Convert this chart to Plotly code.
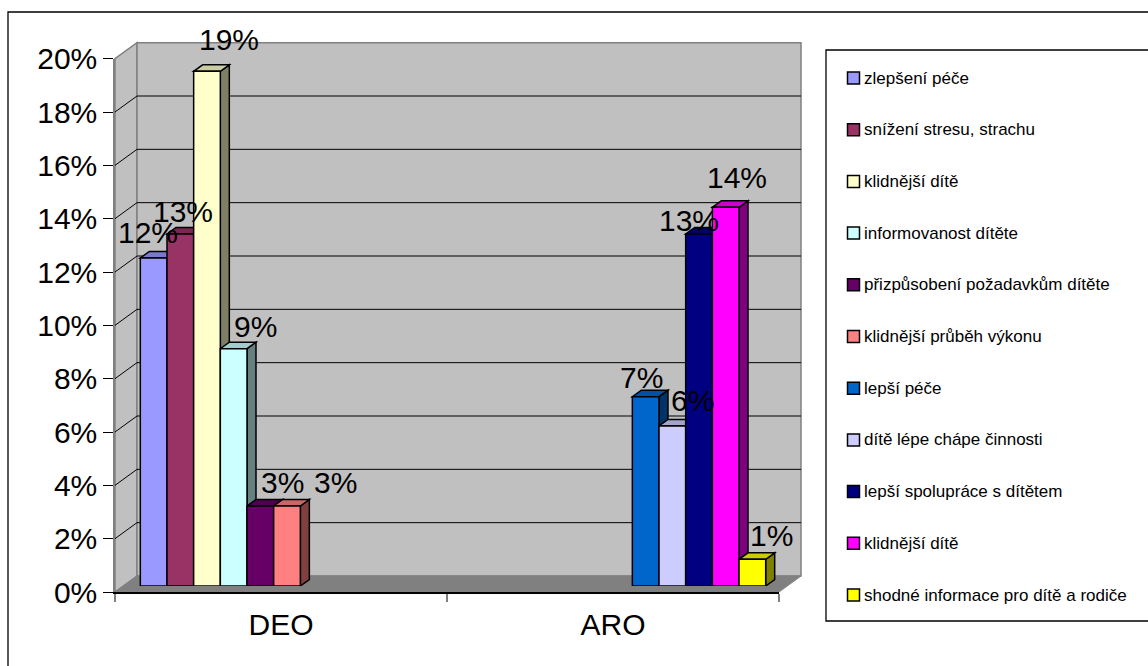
import plotly.graph_objects as go

# ---- data -------------------------------------------------------------
categories = ["DEO", "ARO"]

deo_names = [
    "zlepšení péče",
    "snížení stresu, strachu",
    "klidnější dítě",
    "informovanost dítěte",
    "přizpůsobení požadavkům dítěte",
    "klidnější průběh výkonu",
]
deo_values = [0.123, 0.132, 0.193, 0.089, 0.030, 0.030]

aro_names = [
    "lepší péče",
    "dítě lépe chápe činnosti",
    "lepší spolupráce s dítětem",
    "klidnější dítě",
    "shodné informace pro dítě a rodiče",
]
aro_values = [0.071, 0.060, 0.132, 0.142, 0.010]

y_ticks = [0.00, 0.02, 0.04, 0.06, 0.08, 0.10, 0.12, 0.14, 0.16, 0.18, 0.20]

# ---- styling ------------------------------------------------------------
colors = ["#9999FF", "#993366", "#FFFFCC", "#CCFFFF", "#660066", "#FF8080",
          "#0066CC", "#CCCCFF", "#000080", "#FF00FF", "#FFFF00"]

# label nudges (pixels) relative to the centre / top of each bar
label_dx = [-6, 3, 22, 22, 22, 48, -4, 20, -10, 11, 19]
label_up = [15, 12, 21, 12, 13, 13, 9, 15, 3, 19, 13]

FONT = "Liberation Sans, Arial, sans-serif"
W, H = 1148, 666

# chart geometry in pixels
FX0, FX1 = 115, 779          # front plane, category axis extent
FY0 = 592                    # front plane baseline
YMAX = 0.20
PPU = 533.33 / YMAX          # pixels per unit of value
WALL_DX, WALL_DY = 22, -16   # depth of the walls
BAR_SHIFT = 6                # bars stand slightly behind the front plane
BAR_DX, BAR_DY = 9, -6.5     # depth of each bar
CAT_W = (FX1 - FX0) / 2
SLOT = 26.67


def px(x):
    return x / W


def py(y):
    return 1 - y / H


def shade(hex_color, f):
    h = hex_color.lstrip("#")
    r, g, b = (int(h[i:i + 2], 16) for i in (0, 2, 4))
    return "#%02x%02x%02x" % (int(r * f), int(g * f), int(b * f))


def poly(points):
    return "M " + " L ".join(f"{px(x):.5f},{py(y):.5f}" for x, y in points) + " Z"


series_names = deo_names + aro_names
n_series = len(series_names)
series_vals = ([[v, None] for v in deo_values] +
               [[None, v] for v in aro_values])

bargap = 1 - n_series * SLOT / CAT_W
slot_u = (1 - bargap) / n_series      # one bar slot in x-axis units
dx_u = BAR_DX / CAT_W
dy_u = -BAR_DY / PPU

fig = go.Figure()

for i, (name, vals) in enumerate(zip(series_names, series_vals)):
    fig.add_trace(go.Bar(
        x=[0, 1], y=vals, name=name,
        marker=dict(color=colors[i], line=dict(color="black", width=1.5)),
        xaxis="x", yaxis="y", showlegend=False, hoverinfo="skip",
    ))

# invisible trace so the front-plane axes are drawn
fig.add_trace(go.Scatter(
    x=categories, y=[0, 0], xaxis="x2", yaxis="y2", mode="markers",
    marker=dict(opacity=0), showlegend=False, hoverinfo="skip",
))

shapes = []
grey = "#808080"

# walls and floor
back_top = FY0 + WALL_DY - YMAX * PPU
shapes.append(dict(type="path", xref="paper", yref="paper", layer="below",
                   path=poly([(FX0, FY0), (FX0 + WALL_DX, FY0 + WALL_DY),
                              (FX0 + WALL_DX, back_top), (FX0, FY0 - YMAX * PPU)]),
                   fillcolor="#C0C0C0", line=dict(color=grey, width=1.5)))
shapes.append(dict(type="path", xref="paper", yref="paper", layer="below",
                   path=poly([(FX0 + WALL_DX, FY0 + WALL_DY), (FX1 + WALL_DX, FY0 + WALL_DY),
                              (FX1 + WALL_DX, back_top), (FX0 + WALL_DX, back_top)]),
                   fillcolor="#C0C0C0", line=dict(color=grey, width=1.5)))
for v in y_ticks[1:-1]:
    yf = FY0 - v * PPU
    yb = yf + WALL_DY
    shapes.append(dict(type="line", xref="paper", yref="paper", layer="below",
                       x0=px(FX0 + WALL_DX), x1=px(FX1 + WALL_DX), y0=py(yb), y1=py(yb),
                       line=dict(color="black", width=1)))
    shapes.append(dict(type="line", xref="paper", yref="paper", layer="below",
                       x0=px(FX0), x1=px(FX0 + WALL_DX), y0=py(yf), y1=py(yb),
                       line=dict(color="black", width=1)))
shapes.append(dict(type="path", xref="paper", yref="paper", layer="below",
                   path=poly([(FX0, FY0), (FX1, FY0), (FX1 + WALL_DX, FY0 + WALL_DY),
                              (FX0 + WALL_DX, FY0 + WALL_DY)]),
                   fillcolor=grey, line=dict(color=grey, width=1)))

# side and top faces of the bars, in data units
annotations = []
for i, vals in enumerate(series_vals):
    for c, v in enumerate(vals):
        if v is None:
            continue
        xl = c + (i - (n_series - 1) / 2) * slot_u - slot_u / 2
        xr = xl + slot_u
        side = (f"M {xr},0 L {xr + dx_u},{dy_u} L {xr + dx_u},{v + dy_u} "
                f"L {xr},{v} Z")
        top = (f"M {xl},{v} L {xr},{v} L {xr + dx_u},{v + dy_u} "
               f"L {xl + dx_u},{v + dy_u} Z")
        shapes.append(dict(type="path", xref="x", yref="y", layer="below", path=side,
                           fillcolor=shade(colors[i], 0.5),
                           line=dict(color="black", width=1.5)))
        shapes.append(dict(type="path", xref="x", yref="y", layer="below", path=top,
                           fillcolor=shade(colors[i], 0.8),
                           line=dict(color="black", width=1.5)))
        annotations.append(dict(
            xref="x", yref="y", x=(xl + xr) / 2, y=v,
            text=f"{v:.0%}", showarrow=False, xanchor="center", yanchor="bottom",
            xshift=label_dx[i], yshift=label_up[i] - 8,
            font=dict(family=FONT, size=30, color="black"),
        ))

# outer frame and legend box
shapes.append(dict(type="rect", xref="paper", yref="paper", layer="above",
                   x0=px(8), x1=px(W + 4), y0=py(H + 4), y1=py(12),
                   line=dict(color="black", width=1.3), fillcolor="rgba(0,0,0,0)"))
shapes.append(dict(type="rect", xref="paper", yref="paper", layer="above",
                   x0=px(826), x1=px(W + 4), y0=py(621), y1=py(50),
                   line=dict(color="black", width=1.3), fillcolor="rgba(0,0,0,0)"))

# legend entries
for k, name in enumerate(series_names):
    yc = 78 + 51.7 * k
    shapes.append(dict(type="rect", xref="paper", yref="paper", layer="above",
                       x0=px(847.5), x1=px(859.5), y0=py(yc + 6), y1=py(yc - 6),
                       fillcolor=colors[k], line=dict(color="black", width=1.5)))
    annotations.append(dict(
        xref="paper", yref="paper", x=px(862), y=py(yc), text=name,
        showarrow=False, xanchor="left", yanchor="middle",
        font=dict(family=FONT, size=17, color="black"),
    ))

fig.update_layout(
    width=W, height=H, autosize=False,
    margin=dict(l=0, r=0, t=0, b=0, pad=0, autoexpand=False),
    paper_bgcolor="white", plot_bgcolor="rgba(0,0,0,0)",
    barmode="group", bargap=bargap, bargroupgap=0,
    font=dict(family=FONT, color="black"),
    shapes=shapes, annotations=annotations,
    xaxis=dict(domain=[px(FX0 + BAR_SHIFT), px(FX1 + BAR_SHIFT)], range=[-0.5, 1.5],
               visible=False, fixedrange=True, automargin=False),
    yaxis=dict(domain=[py(FY0 - BAR_SHIFT), py(FY0 - BAR_SHIFT - YMAX * PPU)],
               range=[0, YMAX], visible=False, fixedrange=True, automargin=False),
    xaxis2=dict(domain=[px(FX0), px(FX1)], anchor="y2", type="category",
                categoryorder="array", categoryarray=categories, range=[-0.5, 1.5],
                showgrid=False, zeroline=False, showline=True, linecolor="black",
                linewidth=1.5, ticks="outside", tickson="boundaries", ticklen=8,
                tickcolor=grey, tickwidth=1.5, automargin=False, ticklabelstandoff=5,
                tickfont=dict(family=FONT, size=30, color="black")),
    yaxis2=dict(domain=[py(FY0), py(FY0 - YMAX * PPU)], anchor="x2", range=[0, YMAX],
                tickvals=y_ticks, tickformat=".0%", showgrid=False, zeroline=False,
                showline=True, linecolor=grey, linewidth=1.5, ticks="outside",
                ticklen=10, tickcolor="black", tickwidth=1, ticklabelstandoff=0,
                automargin=False,
                tickfont=dict(family=FONT, size=30, color="black")),
)

fig.write_html("out.html")
